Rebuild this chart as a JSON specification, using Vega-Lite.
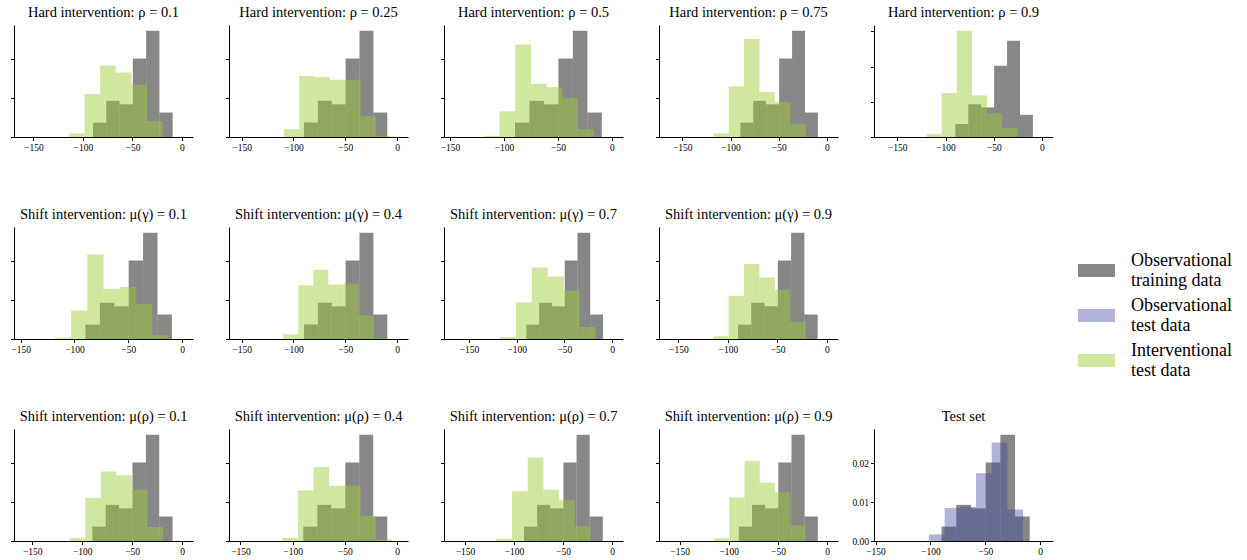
{
  "$schema": "https://vega.github.io/schema/vega-lite/v6.json",
  "padding": {"left": 10, "top": 4, "right": 5, "bottom": 5},
  "datasets": {
    "bins": [
      {"panel": "all", "series": "Observational training data", "x0": -89.8, "x1": -76.4, "d": 0.0037},
      {"panel": "all", "series": "Observational training data", "x0": -76.4, "x1": -63.0, "d": 0.0093},
      {"panel": "all", "series": "Observational training data", "x0": -63.0, "x1": -49.6, "d": 0.0084},
      {"panel": "all", "series": "Observational training data", "x0": -49.6, "x1": -36.2, "d": 0.0202},
      {"panel": "all", "series": "Observational training data", "x0": -36.2, "x1": -22.8, "d": 0.0273},
      {"panel": "all", "series": "Observational training data", "x0": -22.8, "x1": -9.4, "d": 0.0063},

      {"panel": "h1", "series": "Interventional test data", "x0": -114.1, "x1": -98.3, "d": 0.0009},
      {"panel": "h1", "series": "Interventional test data", "x0": -98.3, "x1": -82.6, "d": 0.0110},
      {"panel": "h1", "series": "Interventional test data", "x0": -82.6, "x1": -66.8, "d": 0.0184},
      {"panel": "h1", "series": "Interventional test data", "x0": -66.8, "x1": -51.0, "d": 0.0166},
      {"panel": "h1", "series": "Interventional test data", "x0": -51.0, "x1": -35.3, "d": 0.0135},
      {"panel": "h1", "series": "Interventional test data", "x0": -35.3, "x1": -19.5, "d": 0.0041},

      {"panel": "h2", "series": "Interventional test data", "x0": -109.2, "x1": -94.4, "d": 0.0020},
      {"panel": "h2", "series": "Interventional test data", "x0": -94.4, "x1": -79.6, "d": 0.0157},
      {"panel": "h2", "series": "Interventional test data", "x0": -79.6, "x1": -64.8, "d": 0.0154},
      {"panel": "h2", "series": "Interventional test data", "x0": -64.8, "x1": -50.0, "d": 0.0147},
      {"panel": "h2", "series": "Interventional test data", "x0": -50.0, "x1": -35.2, "d": 0.0147},
      {"panel": "h2", "series": "Interventional test data", "x0": -35.2, "x1": -20.4, "d": 0.0053},
      {"panel": "h2", "series": "Interventional test data", "x0": -20.4, "x1": -5.6, "d": 0.0003},

      {"panel": "h3", "series": "Interventional test data", "x0": -118.6, "x1": -104.1, "d": 0.0003},
      {"panel": "h3", "series": "Interventional test data", "x0": -104.1, "x1": -89.5, "d": 0.0066},
      {"panel": "h3", "series": "Interventional test data", "x0": -89.5, "x1": -75.0, "d": 0.0238},
      {"panel": "h3", "series": "Interventional test data", "x0": -75.0, "x1": -60.5, "d": 0.0137},
      {"panel": "h3", "series": "Interventional test data", "x0": -60.5, "x1": -46.0, "d": 0.0128},
      {"panel": "h3", "series": "Interventional test data", "x0": -46.0, "x1": -31.4, "d": 0.0100},
      {"panel": "h3", "series": "Interventional test data", "x0": -31.4, "x1": -16.9, "d": 0.0020},

      {"panel": "h4", "series": "Interventional test data", "x0": -117.9, "x1": -101.9, "d": 0.0009},
      {"panel": "h4", "series": "Interventional test data", "x0": -101.9, "x1": -86.0, "d": 0.0130},
      {"panel": "h4", "series": "Interventional test data", "x0": -86.0, "x1": -70.0, "d": 0.0252},
      {"panel": "h4", "series": "Interventional test data", "x0": -70.0, "x1": -54.0, "d": 0.0116},
      {"panel": "h4", "series": "Interventional test data", "x0": -54.0, "x1": -38.0, "d": 0.0090},
      {"panel": "h4", "series": "Interventional test data", "x0": -38.0, "x1": -22.0, "d": 0.0034},

      {"panel": "h5", "series": "Interventional test data", "x0": -119.7, "x1": -104.0, "d": 0.0008},
      {"panel": "h5", "series": "Interventional test data", "x0": -104.0, "x1": -88.3, "d": 0.0125},
      {"panel": "h5", "series": "Interventional test data", "x0": -88.3, "x1": -72.6, "d": 0.0302},
      {"panel": "h5", "series": "Interventional test data", "x0": -72.6, "x1": -56.9, "d": 0.0118},
      {"panel": "h5", "series": "Interventional test data", "x0": -56.9, "x1": -41.2, "d": 0.0067},
      {"panel": "h5", "series": "Interventional test data", "x0": -41.2, "x1": -25.5, "d": 0.0025},

      {"panel": "g1", "series": "Interventional test data", "x0": -118.2, "x1": -103.1, "d": 0.0003},
      {"panel": "g1", "series": "Interventional test data", "x0": -103.1, "x1": -88.0, "d": 0.0073},
      {"panel": "g1", "series": "Interventional test data", "x0": -88.0, "x1": -72.9, "d": 0.0217},
      {"panel": "g1", "series": "Interventional test data", "x0": -72.9, "x1": -57.8, "d": 0.0129},
      {"panel": "g1", "series": "Interventional test data", "x0": -57.8, "x1": -42.7, "d": 0.0134},
      {"panel": "g1", "series": "Interventional test data", "x0": -42.7, "x1": -27.6, "d": 0.0090},
      {"panel": "g1", "series": "Interventional test data", "x0": -27.6, "x1": -12.5, "d": 0.0010},

      {"panel": "g2", "series": "Interventional test data", "x0": -109.9, "x1": -95.4, "d": 0.0012},
      {"panel": "g2", "series": "Interventional test data", "x0": -95.4, "x1": -80.8, "d": 0.0138},
      {"panel": "g2", "series": "Interventional test data", "x0": -80.8, "x1": -66.3, "d": 0.0178},
      {"panel": "g2", "series": "Interventional test data", "x0": -66.3, "x1": -51.7, "d": 0.0140},
      {"panel": "g2", "series": "Interventional test data", "x0": -51.7, "x1": -37.2, "d": 0.0143},
      {"panel": "g2", "series": "Interventional test data", "x0": -37.2, "x1": -22.6, "d": 0.0061},
      {"panel": "g2", "series": "Interventional test data", "x0": -22.6, "x1": -8.1, "d": 0.0003},

      {"panel": "g3", "series": "Interventional test data", "x0": -117.5, "x1": -100.8, "d": 0.0005},
      {"panel": "g3", "series": "Interventional test data", "x0": -100.8, "x1": -84.1, "d": 0.0094},
      {"panel": "g3", "series": "Interventional test data", "x0": -84.1, "x1": -67.4, "d": 0.0184},
      {"panel": "g3", "series": "Interventional test data", "x0": -67.4, "x1": -50.7, "d": 0.0161},
      {"panel": "g3", "series": "Interventional test data", "x0": -50.7, "x1": -34.0, "d": 0.0124},
      {"panel": "g3", "series": "Interventional test data", "x0": -34.0, "x1": -17.3, "d": 0.0031},

      {"panel": "g4", "series": "Interventional test data", "x0": -114.8, "x1": -99.3, "d": 0.0007},
      {"panel": "g4", "series": "Interventional test data", "x0": -99.3, "x1": -83.7, "d": 0.0111},
      {"panel": "g4", "series": "Interventional test data", "x0": -83.7, "x1": -68.2, "d": 0.0193},
      {"panel": "g4", "series": "Interventional test data", "x0": -68.2, "x1": -52.6, "d": 0.0158},
      {"panel": "g4", "series": "Interventional test data", "x0": -52.6, "x1": -37.1, "d": 0.0127},
      {"panel": "g4", "series": "Interventional test data", "x0": -37.1, "x1": -21.5, "d": 0.0044},

      {"panel": "r1", "series": "Interventional test data", "x0": -112.3, "x1": -96.8, "d": 0.0007},
      {"panel": "r1", "series": "Interventional test data", "x0": -96.8, "x1": -81.2, "d": 0.0111},
      {"panel": "r1", "series": "Interventional test data", "x0": -81.2, "x1": -65.7, "d": 0.0179},
      {"panel": "r1", "series": "Interventional test data", "x0": -65.7, "x1": -50.1, "d": 0.0169},
      {"panel": "r1", "series": "Interventional test data", "x0": -50.1, "x1": -34.6, "d": 0.0132},
      {"panel": "r1", "series": "Interventional test data", "x0": -34.6, "x1": -19.0, "d": 0.0036},

      {"panel": "r2", "series": "Interventional test data", "x0": -110.0, "x1": -95.0, "d": 0.0008},
      {"panel": "r2", "series": "Interventional test data", "x0": -95.0, "x1": -80.0, "d": 0.0130},
      {"panel": "r2", "series": "Interventional test data", "x0": -80.0, "x1": -65.0, "d": 0.0190},
      {"panel": "r2", "series": "Interventional test data", "x0": -65.0, "x1": -50.0, "d": 0.0142},
      {"panel": "r2", "series": "Interventional test data", "x0": -50.0, "x1": -35.0, "d": 0.0142},
      {"panel": "r2", "series": "Interventional test data", "x0": -35.0, "x1": -20.0, "d": 0.0065},
      {"panel": "r2", "series": "Interventional test data", "x0": -20.0, "x1": -5.0, "d": 0.0004},

      {"panel": "r3", "series": "Interventional test data", "x0": -118.0, "x1": -102.0, "d": 0.0006},
      {"panel": "r3", "series": "Interventional test data", "x0": -102.0, "x1": -86.0, "d": 0.0128},
      {"panel": "r3", "series": "Interventional test data", "x0": -86.0, "x1": -70.0, "d": 0.0215},
      {"panel": "r3", "series": "Interventional test data", "x0": -70.0, "x1": -54.0, "d": 0.0132},
      {"panel": "r3", "series": "Interventional test data", "x0": -54.0, "x1": -38.0, "d": 0.0105},
      {"panel": "r3", "series": "Interventional test data", "x0": -38.0, "x1": -22.0, "d": 0.0038},

      {"panel": "r4", "series": "Interventional test data", "x0": -115.0, "x1": -99.5, "d": 0.0007},
      {"panel": "r4", "series": "Interventional test data", "x0": -99.5, "x1": -84.0, "d": 0.0112},
      {"panel": "r4", "series": "Interventional test data", "x0": -84.0, "x1": -68.5, "d": 0.0205},
      {"panel": "r4", "series": "Interventional test data", "x0": -68.5, "x1": -53.0, "d": 0.0150},
      {"panel": "r4", "series": "Interventional test data", "x0": -53.0, "x1": -37.5, "d": 0.0125},
      {"panel": "r4", "series": "Interventional test data", "x0": -37.5, "x1": -22.0, "d": 0.0040},

      {"panel": "test", "series": "Observational test data", "x0": -101.3, "x1": -87.0, "d": 0.0017},
      {"panel": "test", "series": "Observational test data", "x0": -87.0, "x1": -72.7, "d": 0.0085},
      {"panel": "test", "series": "Observational test data", "x0": -72.7, "x1": -58.4, "d": 0.0088},
      {"panel": "test", "series": "Observational test data", "x0": -58.4, "x1": -44.1, "d": 0.0174},
      {"panel": "test", "series": "Observational test data", "x0": -44.1, "x1": -29.8, "d": 0.0253},
      {"panel": "test", "series": "Observational test data", "x0": -29.8, "x1": -15.5, "d": 0.0081}
    ]
  },
  "config": {
    "view": {"stroke": null},
    "font": "Liberation Serif",
    "title": {"font": "Liberation Serif", "fontSize": 14.5, "fontWeight": "normal", "color": "black", "offset": 5, "anchor": "middle"},
    "axis": {"domainColor": "black", "domainWidth": 1, "tickColor": "black", "tickWidth": 1, "tickSize": 3.5, "grid": false, "labelFont": "Liberation Serif", "labelFontSize": 9.5, "labelColor": "black", "labelPadding": 2, "title": null},
    "legend": {"orient": "none", "legendX": 1064, "legendY": 227, "title": null, "symbolType": "M-1,-0.35H1V0.35H-1Z", "symbolSize": 1369, "symbolStrokeWidth": 0, "labelFont": "Liberation Serif", "labelFontSize": 18, "labelColor": "black", "labelLimit": 400, "labelOffset": 16, "rowPadding": 6, "labelBaseline": "line-bottom"}
  },
  "bounds": "flush",
  "columns": 5,
  "spacing": {"row": 90, "column": 36},
  "concat": [
    {"width": 179, "height": 112, "title": "Hard intervention: ρ = 0.1", "data": {"name": "bins"},
     "transform": [{"filter": "datum.panel == 'all' || datum.panel == 'h1'"}],
     "mark": {"type": "rect"},
     "encoding": {
       "x": {"field": "x0", "type": "quantitative", "scale": {"domain": [-169.5, 11.1], "nice": false, "zero": false}, "axis": {"values": [-150, -100, -50, 0], "format": "d"}},
       "x2": {"field": "x1"},
       "y": {"field": "d", "type": "quantitative", "scale": {"domain": [0, 0.0288], "nice": false}, "axis": {"values": [0, 0.01, 0.02], "labels": false}},
       "y2": {"datum": 0},
       "fill": {"field": "series", "type": "nominal", "scale": {"domain": ["Observational training data", "Observational test data", "Interventional test data"], "range": ["rgba(0,0,0,0.47)", "rgba(60,64,160,0.4)", "rgba(154,205,50,0.47)"]}, "legend": {"labelExpr": "[substring(datum.label, 0, indexof(datum.label, ' ')), substring(datum.label, indexof(datum.label, ' ') + 1)]"}}
     }},
    {"width": 179, "height": 112, "title": "Hard intervention: ρ = 0.25", "data": {"name": "bins"},
     "transform": [{"filter": "datum.panel == 'all' || datum.panel == 'h2'"}],
     "mark": {"type": "rect"},
     "encoding": {
       "x": {"field": "x0", "type": "quantitative", "scale": {"domain": [-162.2, 10.6], "nice": false, "zero": false}, "axis": {"values": [-150, -100, -50, 0], "format": "d"}},
       "x2": {"field": "x1"},
       "y": {"field": "d", "type": "quantitative", "scale": {"domain": [0, 0.0288], "nice": false}, "axis": {"values": [0, 0.01, 0.02], "labels": false}},
       "y2": {"datum": 0},
       "fill": {"field": "series", "type": "nominal", "scale": {"domain": ["Observational training data", "Observational test data", "Interventional test data"], "range": ["rgba(0,0,0,0.47)", "rgba(60,64,160,0.4)", "rgba(154,205,50,0.47)"]}}
     }},
    {"width": 179, "height": 112, "title": "Hard intervention: ρ = 0.5", "data": {"name": "bins"},
     "transform": [{"filter": "datum.panel == 'all' || datum.panel == 'h3'"}],
     "mark": {"type": "rect"},
     "encoding": {
       "x": {"field": "x0", "type": "quantitative", "scale": {"domain": [-155.5, 10.2], "nice": false, "zero": false}, "axis": {"values": [-150, -100, -50, 0], "format": "d"}},
       "x2": {"field": "x1"},
       "y": {"field": "d", "type": "quantitative", "scale": {"domain": [0, 0.0288], "nice": false}, "axis": {"values": [0, 0.01, 0.02], "labels": false}},
       "y2": {"datum": 0},
       "fill": {"field": "series", "type": "nominal", "scale": {"domain": ["Observational training data", "Observational test data", "Interventional test data"], "range": ["rgba(0,0,0,0.47)", "rgba(60,64,160,0.4)", "rgba(154,205,50,0.47)"]}}
     }},
    {"width": 179, "height": 112, "title": "Hard intervention: ρ = 0.75", "data": {"name": "bins"},
     "transform": [{"filter": "datum.panel == 'all' || datum.panel == 'h4'"}],
     "mark": {"type": "rect"},
     "encoding": {
       "x": {"field": "x0", "type": "quantitative", "scale": {"domain": [-174.1, 11.4], "nice": false, "zero": false}, "axis": {"values": [-150, -100, -50, 0], "format": "d"}},
       "x2": {"field": "x1"},
       "y": {"field": "d", "type": "quantitative", "scale": {"domain": [0, 0.0288], "nice": false}, "axis": {"values": [0, 0.01, 0.02], "labels": false}},
       "y2": {"datum": 0},
       "fill": {"field": "series", "type": "nominal", "scale": {"domain": ["Observational training data", "Observational test data", "Interventional test data"], "range": ["rgba(0,0,0,0.47)", "rgba(60,64,160,0.4)", "rgba(154,205,50,0.47)"]}}
     }},
    {"width": 179, "height": 112, "title": "Hard intervention: ρ = 0.9", "data": {"name": "bins"},
     "transform": [{"filter": "datum.panel == 'all' || datum.panel == 'h5'"}],
     "mark": {"type": "rect"},
     "encoding": {
       "x": {"field": "x0", "type": "quantitative", "scale": {"domain": [-174.1, 11.4], "nice": false, "zero": false}, "axis": {"values": [-150, -100, -50, 0], "format": "d"}},
       "x2": {"field": "x1"},
       "y": {"field": "d", "type": "quantitative", "scale": {"domain": [0, 0.0318], "nice": false}, "axis": {"values": [0, 0.01, 0.02, 0.03], "labels": false}},
       "y2": {"datum": 0},
       "fill": {"field": "series", "type": "nominal", "scale": {"domain": ["Observational training data", "Observational test data", "Interventional test data"], "range": ["rgba(0,0,0,0.47)", "rgba(60,64,160,0.4)", "rgba(154,205,50,0.47)"]}}
     }},
    {"width": 179, "height": 112, "title": "Shift intervention: μ(γ) = 0.1", "data": {"name": "bins"},
     "transform": [{"filter": "datum.panel == 'all' || datum.panel == 'g1'"}],
     "mark": {"type": "rect"},
     "encoding": {
       "x": {"field": "x0", "type": "quantitative", "scale": {"domain": [-156.2, 10.2], "nice": false, "zero": false}, "axis": {"values": [-150, -100, -50, 0], "format": "d"}},
       "x2": {"field": "x1"},
       "y": {"field": "d", "type": "quantitative", "scale": {"domain": [0, 0.0288], "nice": false}, "axis": {"values": [0, 0.01, 0.02], "labels": false}},
       "y2": {"datum": 0},
       "fill": {"field": "series", "type": "nominal", "scale": {"domain": ["Observational training data", "Observational test data", "Interventional test data"], "range": ["rgba(0,0,0,0.47)", "rgba(60,64,160,0.4)", "rgba(154,205,50,0.47)"]}}
     }},
    {"width": 179, "height": 112, "title": "Shift intervention: μ(γ) = 0.4", "data": {"name": "bins"},
     "transform": [{"filter": "datum.panel == 'all' || datum.panel == 'g2'"}],
     "mark": {"type": "rect"},
     "encoding": {
       "x": {"field": "x0", "type": "quantitative", "scale": {"domain": [-162.2, 10.6], "nice": false, "zero": false}, "axis": {"values": [-150, -100, -50, 0], "format": "d"}},
       "x2": {"field": "x1"},
       "y": {"field": "d", "type": "quantitative", "scale": {"domain": [0, 0.0288], "nice": false}, "axis": {"values": [0, 0.01, 0.02], "labels": false}},
       "y2": {"datum": 0},
       "fill": {"field": "series", "type": "nominal", "scale": {"domain": ["Observational training data", "Observational test data", "Interventional test data"], "range": ["rgba(0,0,0,0.47)", "rgba(60,64,160,0.4)", "rgba(154,205,50,0.47)"]}}
     }},
    {"width": 179, "height": 112, "title": "Shift intervention: μ(γ) = 0.7", "data": {"name": "bins"},
     "transform": [{"filter": "datum.panel == 'all' || datum.panel == 'g3'"}],
     "mark": {"type": "rect"},
     "encoding": {
       "x": {"field": "x0", "type": "quantitative", "scale": {"domain": [-176.2, 11.5], "nice": false, "zero": false}, "axis": {"values": [-150, -100, -50, 0], "format": "d"}},
       "x2": {"field": "x1"},
       "y": {"field": "d", "type": "quantitative", "scale": {"domain": [0, 0.0288], "nice": false}, "axis": {"values": [0, 0.01, 0.02], "labels": false}},
       "y2": {"datum": 0},
       "fill": {"field": "series", "type": "nominal", "scale": {"domain": ["Observational training data", "Observational test data", "Interventional test data"], "range": ["rgba(0,0,0,0.47)", "rgba(60,64,160,0.4)", "rgba(154,205,50,0.47)"]}}
     }},
    {"width": 179, "height": 112, "title": "Shift intervention: μ(γ) = 0.9", "data": {"name": "bins"},
     "transform": [{"filter": "datum.panel == 'all' || datum.panel == 'g4'"}],
     "mark": {"type": "rect"},
     "encoding": {
       "x": {"field": "x0", "type": "quantitative", "scale": {"domain": [-169.5, 11.1], "nice": false, "zero": false}, "axis": {"values": [-150, -100, -50, 0], "format": "d"}},
       "x2": {"field": "x1"},
       "y": {"field": "d", "type": "quantitative", "scale": {"domain": [0, 0.0288], "nice": false}, "axis": {"values": [0, 0.01, 0.02], "labels": false}},
       "y2": {"datum": 0},
       "fill": {"field": "series", "type": "nominal", "scale": {"domain": ["Observational training data", "Observational test data", "Interventional test data"], "range": ["rgba(0,0,0,0.47)", "rgba(60,64,160,0.4)", "rgba(154,205,50,0.47)"]}}
     }},
    {"width": 179, "height": 112, "data": {"values": [{"e": 1}]},
     "mark": {"type": "point", "opacity": 0},
     "encoding": {}},
    {"width": 179, "height": 112, "title": "Shift intervention: μ(ρ) = 0.1", "data": {"name": "bins"},
     "transform": [{"filter": "datum.panel == 'all' || datum.panel == 'r1'"}],
     "mark": {"type": "rect"},
     "encoding": {
       "x": {"field": "x0", "type": "quantitative", "scale": {"domain": [-168.3, 11.0], "nice": false, "zero": false}, "axis": {"values": [-150, -100, -50, 0], "format": "d"}},
       "x2": {"field": "x1"},
       "y": {"field": "d", "type": "quantitative", "scale": {"domain": [0, 0.0288], "nice": false}, "axis": {"values": [0, 0.01, 0.02], "labels": false}},
       "y2": {"datum": 0},
       "fill": {"field": "series", "type": "nominal", "scale": {"domain": ["Observational training data", "Observational test data", "Interventional test data"], "range": ["rgba(0,0,0,0.47)", "rgba(60,64,160,0.4)", "rgba(154,205,50,0.47)"]}}
     }},
    {"width": 179, "height": 112, "title": "Shift intervention: μ(ρ) = 0.4", "data": {"name": "bins"},
     "transform": [{"filter": "datum.panel == 'all' || datum.panel == 'r2'"}],
     "mark": {"type": "rect"},
     "encoding": {
       "x": {"field": "x0", "type": "quantitative", "scale": {"domain": [-161.0, 10.5], "nice": false, "zero": false}, "axis": {"values": [-150, -100, -50, 0], "format": "d"}},
       "x2": {"field": "x1"},
       "y": {"field": "d", "type": "quantitative", "scale": {"domain": [0, 0.0288], "nice": false}, "axis": {"values": [0, 0.01, 0.02], "labels": false}},
       "y2": {"datum": 0},
       "fill": {"field": "series", "type": "nominal", "scale": {"domain": ["Observational training data", "Observational test data", "Interventional test data"], "range": ["rgba(0,0,0,0.47)", "rgba(60,64,160,0.4)", "rgba(154,205,50,0.47)"]}}
     }},
    {"width": 179, "height": 112, "title": "Shift intervention: μ(ρ) = 0.7", "data": {"name": "bins"},
     "transform": [{"filter": "datum.panel == 'all' || datum.panel == 'r3'"}],
     "mark": {"type": "rect"},
     "encoding": {
       "x": {"field": "x0", "type": "quantitative", "scale": {"domain": [-171.4, 11.2], "nice": false, "zero": false}, "axis": {"values": [-150, -100, -50, 0], "format": "d"}},
       "x2": {"field": "x1"},
       "y": {"field": "d", "type": "quantitative", "scale": {"domain": [0, 0.0288], "nice": false}, "axis": {"values": [0, 0.01, 0.02], "labels": false}},
       "y2": {"datum": 0},
       "fill": {"field": "series", "type": "nominal", "scale": {"domain": ["Observational training data", "Observational test data", "Interventional test data"], "range": ["rgba(0,0,0,0.47)", "rgba(60,64,160,0.4)", "rgba(154,205,50,0.47)"]}}
     }},
    {"width": 179, "height": 112, "title": "Shift intervention: μ(ρ) = 0.9", "data": {"name": "bins"},
     "transform": [{"filter": "datum.panel == 'all' || datum.panel == 'r4'"}],
     "mark": {"type": "rect"},
     "encoding": {
       "x": {"field": "x0", "type": "quantitative", "scale": {"domain": [-171.0, 11.1], "nice": false, "zero": false}, "axis": {"values": [-150, -100, -50, 0], "format": "d"}},
       "x2": {"field": "x1"},
       "y": {"field": "d", "type": "quantitative", "scale": {"domain": [0, 0.0288], "nice": false}, "axis": {"values": [0, 0.01, 0.02], "labels": false}},
       "y2": {"datum": 0},
       "fill": {"field": "series", "type": "nominal", "scale": {"domain": ["Observational training data", "Observational test data", "Interventional test data"], "range": ["rgba(0,0,0,0.47)", "rgba(60,64,160,0.4)", "rgba(154,205,50,0.47)"]}}
     }},
    {"width": 179, "height": 112, "title": "Test set", "data": {"name": "bins"},
     "transform": [{"filter": "datum.panel == 'all' || datum.panel == 'test'"}],
     "mark": {"type": "rect"},
     "encoding": {
       "x": {"field": "x0", "type": "quantitative", "scale": {"domain": [-151.4, 11.8], "nice": false, "zero": false}, "axis": {"values": [-150, -100, -50, 0], "format": "d"}},
       "x2": {"field": "x1"},
       "y": {"field": "d", "type": "quantitative", "scale": {"domain": [0, 0.0288], "nice": false}, "axis": {"values": [0, 0.01, 0.02], "format": ".2f"}},
       "y2": {"datum": 0},
       "fill": {"field": "series", "type": "nominal", "scale": {"domain": ["Observational training data", "Observational test data", "Interventional test data"], "range": ["rgba(0,0,0,0.47)", "rgba(60,64,160,0.4)", "rgba(154,205,50,0.47)"]}}
     }}
  ]
}
